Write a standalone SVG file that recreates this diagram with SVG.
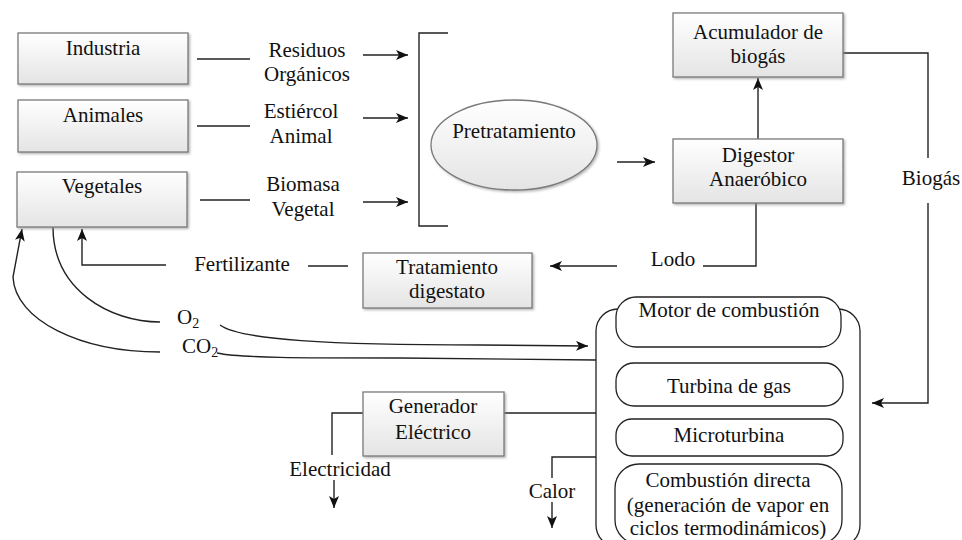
<svg xmlns="http://www.w3.org/2000/svg" width="962" height="540" viewBox="0 0 962 540">
<defs>
<linearGradient id="g" x1="0" y1="0" x2="0" y2="1">
<stop offset="0" stop-color="#ffffff"/>
<stop offset="1" stop-color="#e4e4e4"/>
</linearGradient>
<filter id="sh" x="-10%" y="-10%" width="120%" height="130%">
<feDropShadow dx="1.5" dy="1.5" stdDeviation="1" flood-color="#888" flood-opacity="0.6"/>
</filter>
<marker id="ar" viewBox="0 0 12 10" refX="12" refY="5" markerWidth="12" markerHeight="10" markerUnits="userSpaceOnUse" orient="auto">
<path d="M0,0 L12,5 L0,10 L3,5 z" fill="#111"/>
</marker>
</defs>
<style>
text{font-family:'Liberation Serif','DejaVu Serif',serif;font-size:21px;fill:#111;text-anchor:middle}
.box{fill:url(#g);stroke:#7a7a7a;stroke-width:1.3;filter:url(#sh)}
.rb{fill:#fff;stroke:#222;stroke-width:1.3}
.ln{fill:none;stroke:#222;stroke-width:1.4}
.ar{marker-end:url(#ar)}
.sub{font-size:14px}
</style>
<rect width="962" height="540" fill="#fff"/>

<g id="connectors" font-family="Liberation Serif, DejaVu Serif, serif">
<path class="ln" d="M197,59 H250"/>
<path class="ln ar" d="M363,55 H408"/>
<path class="ln" d="M197,126 H250"/>
<path class="ln ar" d="M363,118 H408"/>
<path class="ln" d="M200,200 H250"/>
<path class="ln ar" d="M363,202 H408"/>
<path class="ln" d="M448,33 H419 V226 H448" stroke="#444"/>
<path class="ln ar" d="M617,162 H655"/>
<path class="ln ar" d="M758,139 V78"/>
<path class="ln" d="M843,53 H928 V158"/>
<path class="ln ar" d="M928,203 V403 H872"/>
<path class="ln" d="M756,203 V266 H703"/>
<path class="ln ar" d="M617,266 H550"/>
<path class="ln" d="M348,266 H308"/>
<path class="ln ar" d="M166,265 H82 V229"/>
<path class="ln" d="M53,227 C53,290 110,322 160,322"/>
<path class="ln ar" d="M220,325 C240,340 330,345 480,345 L588,346"/>
<path class="ln ar" d="M160,352 C80,352 15,320 13,277 L22,229"/>
<path class="ln" d="M217,353 C240,358 300,358 400,358 L596,360"/>
<path class="ln" d="M504,413 H596"/>
<path class="ln" d="M363,413 H332 V455"/>
<path class="ln ar" d="M334,480 V508"/>
<path class="ln" d="M596,457 H552 V478"/>
<path class="ln ar" d="M552,502 V528"/>
<text x="307" y="57">Residuos</text>
<text x="307" y="81">Orgánicos</text>
<text x="301" y="118">Estiércol</text>
<text x="301" y="143">Animal</text>
<text x="303" y="191">Biomasa</text>
<text x="303" y="216">Vegetal</text>
<text x="931" y="185">Biogás</text>
<text x="673" y="266">Lodo</text>
<text x="242" y="271">Fertilizante</text>
<text x="340" y="476">Electricidad</text>
<text x="552" y="498">Calor</text>
<text x="177" y="324" style="text-anchor:start">O<tspan class="sub" dy="4">2</tspan></text>
<text x="182" y="353" style="text-anchor:start">CO<tspan class="sub" dy="4">2</tspan></text>
</g>

<g id="industria"><rect class="box" x="18" y="33" width="170" height="51"/><text x="103" y="55">Industria</text></g>
<g id="animales"><rect class="box" x="18" y="100" width="170" height="52"/><text x="103" y="122">Animales</text></g>
<g id="vegetales"><rect class="box" x="17" y="172" width="170" height="55"/><text x="102" y="193">Vegetales</text></g>
<g id="pretratamiento"><ellipse class="box" cx="514" cy="145" rx="83" ry="45" stroke="#666"/><text x="514" y="138">Pretratamiento</text></g>
<g id="acumulador"><rect class="box" x="673" y="13" width="170" height="64"/><text x="758" y="39">Acumulador de</text><text x="758" y="63">biogás</text></g>
<g id="digestor"><rect class="box" x="673" y="139" width="170" height="64"/><text x="758" y="162">Digestor</text><text x="758" y="186">Anaeróbico</text></g>
<g id="tratamiento"><rect class="box" x="363" y="253" width="169" height="55"/><text x="447" y="274">Tratamiento</text><text x="447" y="298">digestato</text></g>
<g id="generador"><rect class="box" x="363" y="392" width="141" height="64"/><text x="433" y="413">Generador</text><text x="433" y="439">Eléctrico</text></g>
<g id="tecnologias">
<rect x="596" y="309" width="264" height="238" rx="22" fill="none" stroke="#222" stroke-width="1.3"/>
</g>
<g id="motor"><rect class="rb" x="616" y="297" width="225" height="50" rx="20"/><text x="729" y="317">Motor de combustión</text></g>
<g id="turbina"><rect class="rb" x="616" y="363" width="227" height="43" rx="18"/><text x="729" y="393">Turbina de gas</text></g>
<g id="microturbina"><rect class="rb" x="616" y="419" width="227" height="37" rx="16"/><text x="729" y="442">Microturbina</text></g>
<g id="combustion"><rect class="rb" x="615" y="464" width="227" height="80" rx="24"/><text x="728" y="487">Combustión directa</text><text x="728" y="512">(generación de vapor en</text><text x="728" y="535">ciclos termodinámicos)</text></g>
</svg>
